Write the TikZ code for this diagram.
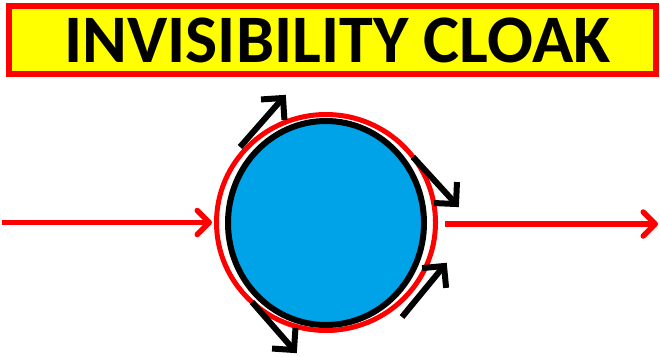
\documentclass[tikz,border=0pt]{standalone}
\usepackage{fontspec}
\newfontfamily\titlefont{Carlito}
\usetikzlibrary{arrows.meta,shapes.geometric,calc}
\definecolor{cloakblue}{RGB}{0,162,232}
\definecolor{pured}{RGB}{255,0,0}
\definecolor{pureyellow}{RGB}{255,255,0}
\tikzset{
  titlebox/.style={draw=pured, fill=pureyellow, line width=6pt, minimum width=647pt, minimum height=68pt, inner sep=0pt},
  titletext/.style={font=\titlefont\fontsize{68}{68}\selectfont\bfseries, inner sep=0pt},
  cloak/.style={ellipse, draw=black, fill=cloakblue, line width=6pt, minimum width=196pt, minimum height=204pt, inner sep=0pt},
  ring/.style={ellipse, draw=pured, line width=5pt, minimum width=219pt, minimum height=216pt, inner sep=0pt},
  ray/.style={draw=pured, line width=5.5pt, -{Straight Barb[length=12pt,width=24pt,line width=5.5pt, round]}},
  flow/.style={draw=black, line width=6pt, miter limit=10}
}
\begin{document}
\begin{tikzpicture}[x=1pt,y=-1pt]
\useasboundingbox (0,0) rectangle (660,356);
\node[titlebox] (box) at (332.5,39.5) {};
\node[titletext] (title) at (337.5,40.5) {INVISIBILITY CLOAK};
\node[ring] (ring) at (326,222.5) {};
\node[cloak] (cloak) at (326,223) {};
% red rays
\coordinate (inL) at (2,222.5);
\coordinate (outR) at (658,224);
\coordinate (outL) at (445,224);
\draw[ray, shorten >=2pt] (inL) -- (ring.west);
\draw[ray] (outL) -- (outR);
% black flow arrows
\coordinate (a1s) at (240,147); \coordinate (a1e) at (283,98);
\coordinate (a2s) at (413,157); \coordinate (a2e) at (456,204);
\coordinate (a3s) at (402,317); \coordinate (a3e) at (444,266);
\coordinate (a4s) at (252,302); \coordinate (a4e) at (294,350);
\foreach \s/\e in {a1s/a1e, a2s/a2e, a3s/a3e, a4s/a4e} {
  \draw[flow] (\s) -- (\e);
  \draw[flow] ($(\e)!22pt!45:(\s)$) -- (\e) -- ($(\e)!22pt!-45:(\s)$);
}
\end{tikzpicture}
\end{document}
